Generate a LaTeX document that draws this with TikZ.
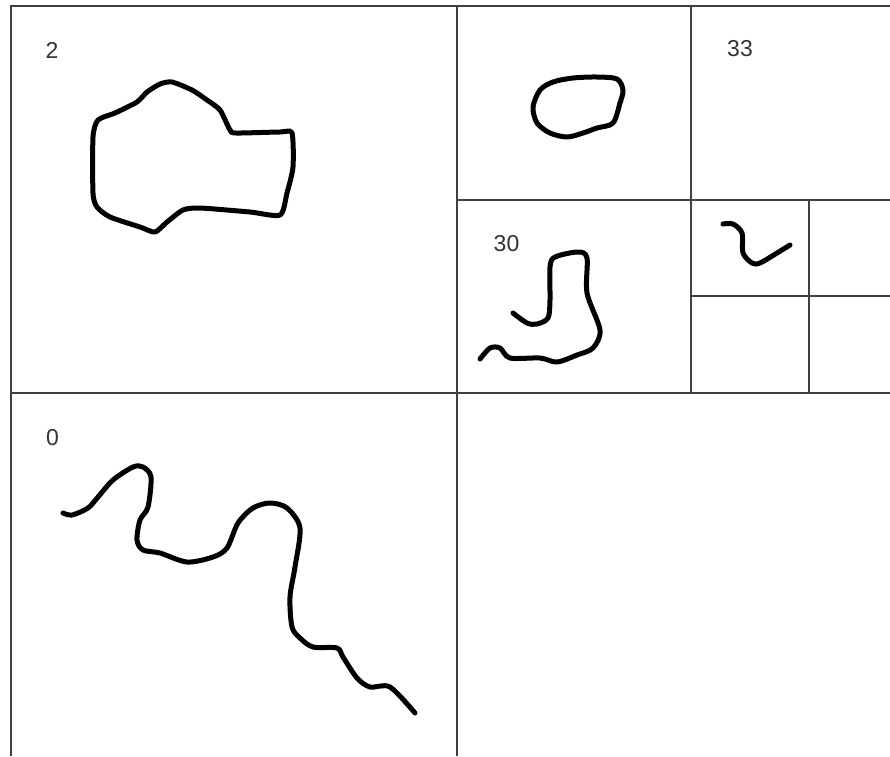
\documentclass[tikz,border=0pt]{standalone}
\usepackage{fontspec}
\setmainfont{Liberation Sans}
\begin{document}
\begin{tikzpicture}[x=1pt,y=-1pt,
  gridline/.style={draw=black!75,line width=2pt},
  stroke/.style={draw=black,line width=5pt,line cap=round,line join=round},
  lbl/.style={inner sep=0pt,text=black!80,font=\fontsize{23}{23}\selectfont}]
\useasboundingbox[fill=white] (0,0) rectangle (890,756);
% grid
\draw[gridline] (11,756) -- (11,6) -- (890,6);
\draw[gridline] (457,6) -- (457,756);
\draw[gridline] (11,393) -- (890,393);
\draw[gridline] (691,6) -- (691,393);
\draw[gridline] (457,200) -- (890,200);
\draw[gridline] (809,200) -- (809,393);
\draw[gridline] (691,296) -- (890,296);
% labels
\node[lbl] (l2) at (52,50) {2};
\node[lbl] (l33) at (740,49) {33};
\node[lbl] (l30) at (506.5,244) {30};
\node[lbl] (l0) at (52.5,438) {0};
% blob in quadrant 2
\draw[stroke] plot[smooth cycle,tension=0.4] coordinates {
 (172,82) (192,90) (207,100) (220,110) (230,130) (236,133) (280,132) (292,133)
 (293,167) (287,193) (280,215) (250,212) (200,208) (183,210) (167,222)
 (155,232) (140,227) (110,217) (97,207) (93,193) (93,137) (98,120)
 (115,113) (137,102) (147,92) (160,84)};
% ellipse-like loop
\draw[stroke] plot[smooth cycle,tension=0.5] coordinates {
 (533,107) (540,90) (553,82) (573,78) (597,77) (617,79) (623,90) (620,103)
 (613,123) (597,128) (583,133) (567,137) (550,133) (537,123)};
% curve in 30
\draw[stroke] plot[smooth,tension=0.5] coordinates {
 (513,313) (527,323) (537,324) (548,318) (550,300) (550,267) (555,257)
 (578,252) (587,258) (587,293) (600,330) (593,348) (577,355) (557,362)
 (540,358) (510,358) (500,348) (490,348) (480,359)};
% small curve
\draw[stroke] plot[smooth,tension=0.5] coordinates {
 (723,224) (733,224) (742,233) (743,253) (752,263) (760,263) (777,253) (790,245)};
% curve in 0
\draw[stroke] plot[smooth,tension=0.5] coordinates {
 (63,513) (72,515) (88,508) (98,497) (113,480) (133,467) (143,467) (151,477)
 (148,507) (140,520) (137,540) (143,550) (160,553) (187,562) (213,557)
 (227,548) (238,523) (253,508) (270,503) (287,508) (300,528) (295,567)
 (290,597) (292,627) (300,638) (313,647) (337,648) (343,657) (357,678)
 (370,687) (390,687) (415,713)};
\end{tikzpicture}
\end{document}
